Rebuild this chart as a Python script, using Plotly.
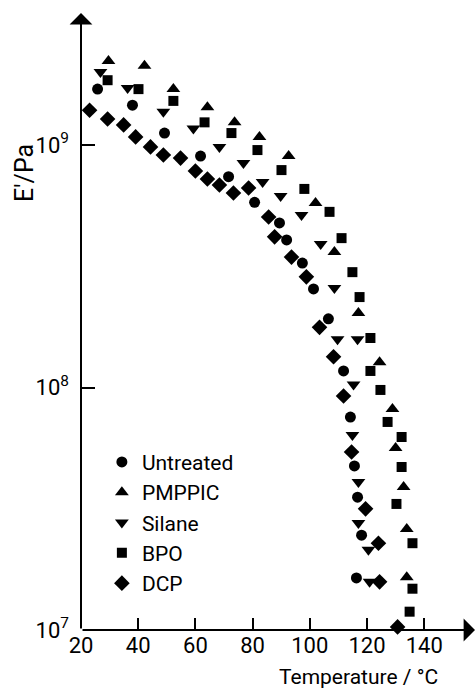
import plotly.graph_objects as go

# Storage modulus E' versus temperature for differently treated samples
untreated_T = [25.8, 38.0, 49.2, 61.8, 71.6, 80.7, 89.4, 91.9, 97.4, 101.3, 106.5,
               111.8, 114.2, 115.6, 116.7, 118.1, 116.3]
untreated_E = [1.70e9, 1.46e9, 1.12e9, 9.0e8, 7.4e8, 5.8e8, 4.77e8, 4.06e8, 3.26e8,
               2.55e8, 1.92e8, 1.17e8, 7.55e7, 4.75e7, 3.53e7, 2.46e7, 1.64e7]

pmppic_T = [29.6, 42.2, 52.3, 64.2, 73.7, 82.4, 92.6, 102.0, 108.6, 117.0, 124.4,
            128.9, 130.0, 132.8, 133.9, 133.9]
pmppic_E = [2.22e9, 2.12e9, 1.70e9, 1.43e9, 1.24e9, 1.08e9, 9.0e8, 5.77e8, 3.62e8,
            2.03e8, 1.27e8, 8.15e7, 5.63e7, 3.89e7, 2.61e7, 1.65e7]

silane_T = [26.8, 36.3, 48.8, 59.3, 68.4, 76.8, 83.5, 89.8, 97.1, 103.8, 108.6,
            109.7, 116.7, 115.3, 114.9, 117.0, 117.0, 120.5, 120.9]
silane_E = [2.00e9, 1.72e9, 1.37e9, 1.17e9, 9.82e8, 8.43e8, 7.03e8, 6.16e8, 5.14e8,
            3.91e8, 2.57e8, 1.58e8, 1.58e8, 1.03e8, 6.37e7, 4.08e7, 2.76e7, 2.14e7,
            1.58e7]

bpo_T = [29.3, 40.1, 52.3, 63.2, 72.6, 81.7, 90.1, 98.1, 106.9, 111.1, 114.9, 117.4,
         121.2, 121.2, 124.7, 127.2, 132.1, 132.1, 130.3, 135.9, 135.9, 134.9]
bpo_E = [1.85e9, 1.70e9, 1.52e9, 1.24e9, 1.12e9, 9.53e8, 7.88e8, 6.59e8, 5.30e8,
         4.13e8, 2.99e8, 2.36e8, 1.60e8, 1.17e8, 9.77e7, 7.21e7, 6.25e7, 4.70e7,
         3.31e7, 2.28e7, 1.48e7, 1.19e7]

dcp_T = [23.0, 29.3, 34.9, 39.1, 44.3, 48.8, 54.8, 60.0, 64.2, 68.4, 73.3, 78.6,
         85.6, 87.7, 93.6, 98.8, 103.4, 108.3, 111.8, 114.6, 119.5, 124.0, 124.4, 130.7]
dcp_E = [1.39e9, 1.28e9, 1.21e9, 1.08e9, 9.82e8, 9.10e8, 8.83e8, 7.81e8, 7.24e8,
         6.84e8, 6.34e8, 6.65e8, 5.05e8, 4.18e8, 3.45e8, 2.86e8, 1.77e8, 1.34e8,
         9.22e7, 5.42e7, 3.16e7, 2.28e7, 1.58e7, 1.03e7]

x_ticks = [20, 40, 60, 80, 100, 120, 140]
y_ticks = [1e7, 1e8, 1e9]
y_ticktext = ["10<sup>7</sup>", "10<sup>8</sup>", "10<sup>9</sup>"]

FONT = "Roboto, Liberation Sans, sans-serif"

series = [
    ("Untreated", untreated_T, untreated_E, "circle", 11),
    ("PMPPIC", pmppic_T, pmppic_E, "triangle-up", 12),
    ("Silane", silane_T, silane_E, "triangle-down", 12),
    ("BPO", bpo_T, bpo_E, "square", 10),
    ("DCP", dcp_T, dcp_E, "diamond", 12),
]

fig = go.Figure()
for name, t, e, sym, size in series:
    fig.add_trace(go.Scatter(
        x=t, y=e, mode="markers", name=name, cliponaxis=False,
        marker=dict(symbol=sym, size=size, color="black", line=dict(width=0)),
    ))

W, H = 476, 689
ML, MR, MT, MB = 81, 1, 13, 59
plot_w = W - ML - MR
plot_h = H - MT - MB

fig.update_layout(
    width=W, height=H,
    margin=dict(l=ML, r=MR, t=MT, b=MB, pad=0),
    paper_bgcolor="white", plot_bgcolor="white",
    font=dict(family=FONT, color="black", size=20),
    showlegend=True,
    legend=dict(
        x=0.053, y=0.305, xanchor="left", yanchor="top",
        bgcolor="rgba(0,0,0,0)", font=dict(size=21, family=FONT),
        itemsizing="trace", tracegroupgap=0,
    ),
    xaxis=dict(
        range=[20, 20 + plot_w / 2.86], showgrid=False, zeroline=False,
        showline=False, ticks="inside", ticklen=12, tickwidth=1.5,
        tickcolor="black", tickvals=x_ticks,
        tickfont=dict(size=22, family=FONT),
    ),
    yaxis=dict(
        type="log", range=[7, 7 + plot_h / 242.5], showgrid=False,
        zeroline=False, showline=False, ticks="inside", ticklen=14,
        tickwidth=1.5, tickcolor="black", tickvals=y_ticks,
        ticktext=y_ticktext, tickfont=dict(size=22, family=FONT),
        ticklabelstandoff=11,
    ),
)

# Axis lines with arrowheads
fig.add_annotation(x=1, y=0, xref="paper", yref="paper", ax=-plot_w, ay=0,
                   text="", showarrow=True, arrowhead=1, arrowsize=1.9,
                   arrowwidth=2, arrowcolor="black", standoff=0, startstandoff=0)
fig.add_annotation(x=0, y=1, xref="paper", yref="paper", ax=0, ay=plot_h,
                   text="", showarrow=True, arrowhead=1, arrowsize=1.9,
                   arrowwidth=2, arrowcolor="black", standoff=0, startstandoff=0)

# Axis titles
fig.add_annotation(x=(358 - ML) / plot_w, y=(630 - 677) / plot_h,
                   xref="paper", yref="paper", text="Temperature / °C",
                   showarrow=False, font=dict(size=21, family=FONT),
                   xanchor="center", yanchor="middle")
fig.add_annotation(x=(24 - ML) / plot_w, y=(630 - 173) / plot_h,
                   xref="paper", yref="paper", text="E'/Pa", textangle=-90,
                   showarrow=False, font=dict(size=25, family=FONT),
                   xanchor="center", yanchor="middle")

fig.write_html("out.html")
